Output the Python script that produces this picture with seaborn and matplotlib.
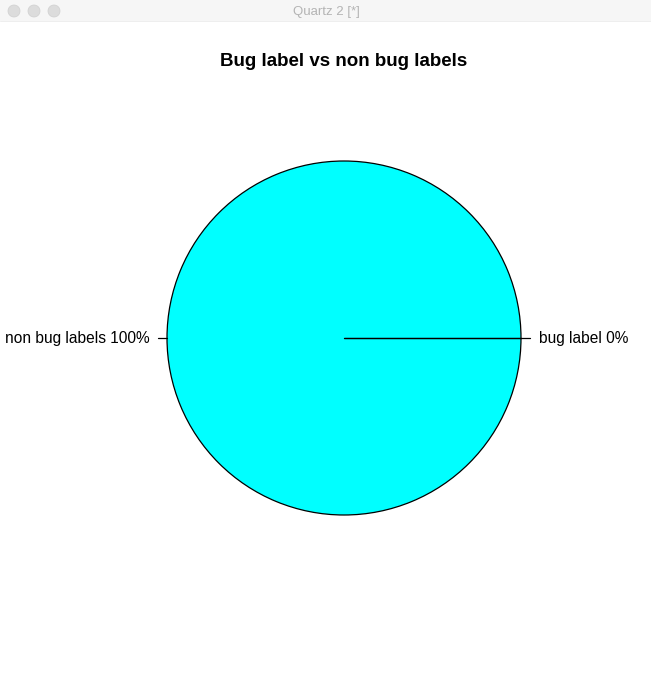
import numpy as np
import matplotlib
matplotlib.use("Agg")
import matplotlib.pyplot as plt
import seaborn as sns
from matplotlib.patches import Rectangle, Circle

# Data
categories = ["bug label", "non bug labels"]
counts = [0, 100]
slice_colors = ["white", "cyan"]
chart_title = "Bug label vs non bug labels"
window_title = "Quartz 2 [*]"

pct = np.array(counts) / np.sum(counts) * 100
labels = [f"{c} {p:.0f}%" for c, p in zip(categories, pct)]

sns.set_theme(style="white")
plt.rcParams["font.family"] = ["Liberation Sans", "DejaVu Sans"]
plt.rcParams["text.color"] = "black"

W, H = 651, 673
fig = plt.figure(figsize=(W / 100, H / 100), dpi=100)
fig.patch.set_facecolor("white")

# pie center and radius in pixels (from top-left)
cx, cy, R = 344, 338, 177
ax = fig.add_axes([0, 0, 1, 1])
ax.pie(counts, labels=labels, colors=slice_colors, startangle=0,
       counterclock=True, radius=1.0, labeldistance=1.1,
       wedgeprops=dict(edgecolor="black", linewidth=0.9),
       textprops=dict(fontsize=11.2, color="black"))
ax.set_xlim(-cx / R, (W - cx) / R)
ax.set_ylim((cy - H) / R, cy / R)
ax.set_aspect("auto")
ax.axis("off")

# slice boundaries (base R draws a radius even for a zero slice)
cum = np.cumsum(counts) / np.sum(counts)
starts = np.concatenate([[0], cum[:-1]]) * 2 * np.pi
for a in starts:
    ax.plot([0, np.cos(a)], [0, np.sin(a)], color="black", lw=0.9)

# small tick marks at label positions, like base R pie()
mids = (np.concatenate([[0], cum[:-1]]) + cum) / 2 * 2 * np.pi
for a in mids:
    ax.plot([np.cos(a), 1.05 * np.cos(a)], [np.sin(a), 1.05 * np.sin(a)],
            color="black", lw=0.9)

fig.text(cx / W, 1 - 62 / H, chart_title, ha="center", va="center",
         fontsize=13.5, fontweight="bold", color="black")

# window title bar
bar = fig.add_axes([0, 1 - 22 / H, 1, 22 / H])
bar.set_xlim(0, W)
bar.set_ylim(22, 0)
bar.axis("off")
bar.add_patch(Rectangle((0, 0), W, 22, facecolor="#f6f6f6", edgecolor="none"))
bar.plot([0, W], [21.5, 21.5], color="#d2d2d2", lw=1)
for x in [14, 34, 54]:
    bar.add_patch(Circle((x, 11), 6, facecolor="#dcdcdc", edgecolor="#cfcfcf", lw=0.5))
bar.text(326, 12, window_title, ha="center", va="center", fontsize=9.5,
         color="#b4b4b4")

fig.savefig("out.png", dpi=100)
